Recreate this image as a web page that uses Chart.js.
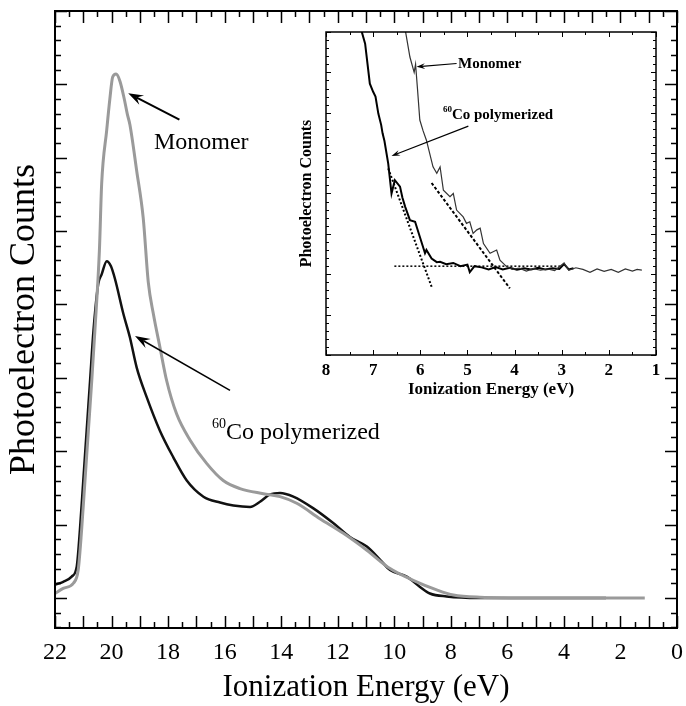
<!DOCTYPE html>
<html>
<head>
<meta charset="utf-8">
<script src="https://cdn.jsdelivr.net/npm/chart.js@4.4.1/dist/chart.umd.min.js"></script>
<style>
  body { margin: 0; background: #fff; }
  #wrap { position: relative; width: 686px; height: 706px; }
  #inset { position: absolute; left: 290px; top: 24px; }
</style>
</head>
<body>
<div id="wrap">
  <canvas id="main" width="686" height="706"></canvas>
  <canvas id="inset" width="372" height="392"></canvas>
</div>
<script>
// main spectrum, ionization energy (eV) vs counts (arbitrary units)
const monomerE = [22.0, 21.71, 21.35, 21.18, 21.06, 20.94, 20.82, 20.70, 20.59, 20.43, 20.35, 20.17, 20.06, 19.96, 19.84, 19.70, 19.55, 19.44, 19.35, 19.11, 18.88, 18.70, 18.52, 18.29, 18.05, 17.70, 17.22, 16.63, 16.05, 15.46, 14.63, 14.04, 13.45, 12.63, 11.80, 10.97, 10.15, 9.33, 8.50, 7.91, 6.97, 5.0, 3.0, 1.14];
const monomerCounts = [0.06, 0.13, 0.20, 0.38, 0.92, 1.60, 2.28, 2.96, 3.64, 4.73, 5.64, 6.38, 6.80, 7.10, 7.14, 7.04, 6.80, 6.59, 6.45, 5.82, 5.18, 4.30, 3.87, 3.42, 2.96, 2.51, 2.15, 1.83, 1.60, 1.49, 1.42, 1.38, 1.29, 1.08, 0.88, 0.65, 0.40, 0.24, 0.11, 0.04, 0.01, 0.0, 0.0, 0.0];

const polymerE = [22.0, 21.71, 21.41, 21.23, 21.12, 21.00, 20.88, 20.76, 20.64, 20.47, 20.35, 20.17, 20.02, 19.88, 19.58, 19.35, 19.11, 18.76, 18.29, 17.82, 17.34, 16.75, 16.16, 15.69, 15.10, 14.75, 14.39, 14.04, 13.57, 12.86, 12.16, 11.57, 10.97, 10.50, 10.15, 9.56, 9.09, 8.74, 8.15, 7.0, 5.0, 2.51];
const polymerCounts = [0.18, 0.22, 0.29, 0.43, 0.92, 1.60, 2.28, 2.96, 3.64, 4.28, 4.41, 4.59, 4.52, 4.35, 3.87, 3.55, 3.14, 2.74, 2.28, 1.92, 1.60, 1.38, 1.30, 1.26, 1.24, 1.31, 1.41, 1.43, 1.38, 1.22, 1.02, 0.83, 0.70, 0.52, 0.38, 0.29, 0.15, 0.06, 0.02, 0.0, 0.0, 0.0];

// inset: threshold region
const insetMonomerE = [6.40, 6.22, 6.13, 6.10, 6.06, 6.01, 5.94, 5.87, 5.73, 5.65, 5.58, 5.51, 5.37, 5.30, 5.23, 5.09, 5.02, 4.95, 4.88, 4.80, 4.73, 4.66, 4.52, 4.38, 4.31, 4.17, 4.05, 3.90, 3.75, 3.60, 3.45, 3.30, 3.15, 2.95, 2.85, 2.70, 2.55, 2.40, 2.25, 2.10, 1.95, 1.80, 1.65, 1.50, 1.40, 1.30];
const insetMonomerCounts = [8.6, 7.38, 7.0, 7.2, 6.6, 5.82, 5.55, 5.32, 4.66, 4.50, 4.66, 4.08, 3.92, 4.00, 3.59, 3.42, 3.26, 3.30, 3.01, 3.10, 3.14, 2.76, 2.52, 2.60, 2.35, 2.19, 2.12, 2.15, 2.08, 2.14, 2.10, 2.13, 2.09, 2.28, 2.10, 2.16, 2.12, 2.05, 2.13, 2.07, 2.12, 2.05, 2.13, 2.08, 2.12, 2.10];

const insetPolymerE = [7.30, 7.24, 7.17, 7.07, 7.00, 6.95, 6.89, 6.83, 6.80, 6.76, 6.68, 6.61, 6.54, 6.43, 6.38, 6.32, 6.22, 6.11, 6.01, 5.90, 5.87, 5.76, 5.65, 5.58, 5.45, 5.30, 5.15, 5.00, 4.95, 4.85, 4.70, 4.55, 4.40, 4.25, 4.10, 3.95, 3.80, 3.65, 3.50, 3.35, 3.20, 3.05, 2.95, 2.85, 2.75];
const insetPolymerCounts = [8.6, 8.0, 7.71, 6.72, 6.52, 6.40, 5.98, 5.70, 5.49, 5.30, 4.74, 4.00, 4.33, 4.17, 3.90, 3.67, 3.34, 3.30, 2.93, 2.52, 2.60, 2.39, 2.30, 2.31, 2.25, 2.28, 2.20, 2.24, 2.05, 2.20, 2.17, 2.12, 2.18, 2.12, 2.16, 2.11, 2.15, 2.12, 2.16, 2.12, 2.15, 2.13, 2.25, 2.12, 2.15];

// fitted onset lines (dotted)
const baselineE = [6.55, 3.0];
const baselineCounts = [2.20, 2.20];
const polymerFitE = [6.68, 5.76];
const polymerFitCounts = [4.62, 1.69];
const monomerFitE = [5.76, 4.10];
const monomerFitCounts = [4.26, 1.65];

const mainTicks = [22, 20, 18, 16, 14, 12, 10, 8, 6, 4, 2, 0];
const insetTicks = [8, 7, 6, 5, 4, 3, 2, 1];

const pts = (xs, ys) => xs.map((v, i) => ({ x: v, y: ys[i] }));

// box around the plot with inward ticks on all four sides
const frameTicks = {
  id: 'frameTicks',
  afterDatasetsDraw(chart, args, o) {
    const { ctx, chartArea: a, scales: { x, y } } = chart;
    ctx.save();
    ctx.strokeStyle = '#000';
    ctx.lineWidth = o.lineWidth;
    ctx.strokeRect(a.left, a.top, a.right - a.left, a.bottom - a.top);
    ctx.lineWidth = o.tickWidth;
    ctx.beginPath();
    const isMajor = (v, step) => Math.abs(v / step - Math.round(v / step)) < 1e-6;
    for (let v = Math.ceil(x.min / o.xMinor - 1e-6) * o.xMinor; v <= x.max + 1e-6; v += o.xMinor) {
      const px = Math.round(x.getPixelForValue(v)) + 0.5;
      const len = isMajor(v, o.xMajor) ? o.majorLen : o.minorLen;
      ctx.moveTo(px, a.bottom); ctx.lineTo(px, a.bottom - len);
      ctx.moveTo(px, a.top); ctx.lineTo(px, a.top + len);
    }
    for (let v = Math.ceil(y.min / o.yMinor - 1e-6) * o.yMinor; v <= y.max + 1e-6; v += o.yMinor) {
      const py = Math.round(y.getPixelForValue(v)) + 0.5;
      const len = isMajor(v, o.yMajor) ? o.majorLen : o.minorLen;
      ctx.moveTo(a.left, py); ctx.lineTo(a.left + len, py);
      ctx.moveTo(a.right, py); ctx.lineTo(a.right - len, py);
    }
    ctx.stroke();
    ctx.restore();
  }
};

// labels and arrows placed in data coordinates
const notes = {
  id: 'notes',
  afterDatasetsDraw(chart, args, o) {
    const { ctx, scales: { x, y } } = chart;
    ctx.save();
    ctx.fillStyle = '#000';
    ctx.strokeStyle = '#000';
    (o.arrows || []).forEach(ar => {
      const x0 = x.getPixelForValue(ar.from[0]), y0 = y.getPixelForValue(ar.from[1]);
      const x1 = x.getPixelForValue(ar.to[0]), y1 = y.getPixelForValue(ar.to[1]);
      const ang = Math.atan2(y1 - y0, x1 - x0);
      ctx.lineWidth = ar.width;
      ctx.beginPath();
      ctx.moveTo(x0, y0);
      ctx.lineTo(x1 - Math.cos(ang) * ar.head * 0.6, y1 - Math.sin(ang) * ar.head * 0.6);
      ctx.stroke();
      ctx.beginPath();
      ctx.moveTo(x1, y1);
      ctx.lineTo(x1 - ar.head * Math.cos(ang - 0.33), y1 - ar.head * Math.sin(ang - 0.33));
      ctx.lineTo(x1 - ar.head * 0.6 * Math.cos(ang), y1 - ar.head * 0.6 * Math.sin(ang));
      ctx.lineTo(x1 - ar.head * Math.cos(ang + 0.33), y1 - ar.head * Math.sin(ang + 0.33));
      ctx.closePath();
      ctx.fill();
    });
    (o.labels || []).forEach(l => {
      let px = x.getPixelForValue(l.at[0]);
      const py = y.getPixelForValue(l.at[1]);
      ctx.textAlign = 'left';
      ctx.textBaseline = 'alphabetic';
      if (l.sup) {
        ctx.font = l.supFont;
        ctx.fillText(l.sup, px, py - l.supRise);
        px += ctx.measureText(l.sup).width;
      }
      ctx.font = l.font;
      ctx.fillText(l.text, px, py);
    });
    ctx.restore();
  }
};

const serif = 'Liberation Serif';

new Chart(document.getElementById('main'), {
  type: 'line',
  data: {
    datasets: [
      { label: 'Monomer', data: pts(monomerE, monomerCounts), borderColor: '#9a9a9a', borderWidth: 3, pointRadius: 0, cubicInterpolationMode: 'monotone' },
      { label: '60Co polymerized', data: pts(polymerE, polymerCounts), borderColor: '#111', borderWidth: 2.5, pointRadius: 0, cubicInterpolationMode: 'monotone' }
    ]
  },
  options: {
    responsive: false,
    animation: false,
    devicePixelRatio: 1,
    layout: { padding: { top: 11, right: 9, left: 0, bottom: 0 } },
    plugins: {
      legend: { display: false },
      tooltip: { enabled: false },
      frameTicks: { lineWidth: 2, tickWidth: 1.5, xMinor: 0.5, xMajor: 1, yMinor: 0.2, yMajor: 1, majorLen: 12, minorLen: 6 },
      notes: {
        arrows: [
          { from: [17.60, 6.52], to: [19.41, 6.88], head: 16, width: 2 },
          { from: [15.81, 2.83], to: [19.17, 3.57], head: 16, width: 1.5 }
        ],
        labels: [
          { text: 'Monomer', at: [18.50, 6.12], font: '24px ' + serif },
          { text: 'Co polymerized', sup: '60', at: [16.45, 2.17], font: '24px ' + serif, supFont: '14px ' + serif, supRise: 11 }
        ]
      }
    },
    scales: {
      x: {
        type: 'linear', reverse: true, min: 0, max: 22,
        afterFit: s => { s.height = 78; },
        afterBuildTicks: s => { s.ticks = mainTicks.map(v => ({ value: v })); },
        grid: { display: false },
        border: { display: false },
        ticks: { padding: 2, color: '#000', font: { family: serif, size: 24 }, maxRotation: 0 },
        title: { display: true, text: 'Ionization Energy (eV)', color: '#000', font: { family: serif, size: 31 }, padding: 0 }
      },
      y: {
        type: 'linear', min: -0.41, max: 8.0,
        afterFit: s => { s.width = 55; },
        grid: { display: false },
        border: { display: false },
        ticks: { display: false },
        title: { display: true, text: 'Photoelectron Counts', color: '#000', font: { family: serif, size: 36 }, padding: { top: 3 } }
      }
    }
  },
  plugins: [frameTicks, notes]
});

new Chart(document.getElementById('inset'), {
  type: 'line',
  data: {
    datasets: [
      { label: 'Monomer', data: pts(insetMonomerE, insetMonomerCounts), borderColor: '#333', borderWidth: 1.2, pointRadius: 0, tension: 0 },
      { label: '60Co polymerized', data: pts(insetPolymerE, insetPolymerCounts), borderColor: '#000', borderWidth: 2, pointRadius: 0, tension: 0 },
      { label: 'baseline', data: pts(baselineE, baselineCounts), borderColor: '#000', borderWidth: 1.5, borderDash: [2, 2], pointRadius: 0 },
      { label: 'polymer onset', data: pts(polymerFitE, polymerFitCounts), borderColor: '#000', borderWidth: 2, borderDash: [2, 2], pointRadius: 0 },
      { label: 'monomer onset', data: pts(monomerFitE, monomerFitCounts), borderColor: '#000', borderWidth: 2, borderDash: [3, 2], pointRadius: 0 }
    ]
  },
  options: {
    responsive: false,
    animation: false,
    devicePixelRatio: 1,
    layout: { padding: { top: 8, right: 6, left: 0, bottom: 0 } },
    plugins: {
      legend: { display: false },
      tooltip: { enabled: false },
      frameTicks: { lineWidth: 1.5, tickWidth: 1, xMinor: 0.5, xMajor: 1, yMinor: 0.2, yMajor: 1, majorLen: 5, minorLen: 3 },
      notes: {
        arrows: [
          { from: [5.23, 7.22], to: [6.08, 7.14], head: 9, width: 1.2 },
          { from: [4.98, 5.67], to: [6.61, 4.93], head: 9, width: 1.2 }
        ],
        labels: [
          { text: 'Monomer', at: [5.20, 7.10], font: 'bold 15px ' + serif },
          { text: 'Co polymerized', sup: '60', at: [5.52, 5.85], font: 'bold 15px ' + serif, supFont: 'bold 9px ' + serif, supRise: 7 }
        ]
      }
    },
    scales: {
      x: {
        type: 'linear', reverse: true, min: 1, max: 8,
        afterFit: s => { s.height = 61; },
        afterBuildTicks: s => { s.ticks = insetTicks.map(v => ({ value: v })); },
        grid: { display: false },
        border: { display: false },
        ticks: { padding: -3, color: '#000', font: { family: serif, size: 17, weight: 'bold' }, maxRotation: 0 },
        title: { display: true, text: 'Ionization Energy (eV)', color: '#000', font: { family: serif, size: 17, weight: 'bold' }, padding: { bottom: 16 } }
      },
      y: {
        type: 'linear', min: 0, max: 8,
        afterFit: s => { s.width = 36; },
        grid: { display: false },
        border: { display: false },
        ticks: { display: false },
        title: { display: true, text: 'Photoelectron Counts', color: '#000', font: { family: serif, size: 16, weight: 'bold' }, padding: { top: 7 } }
      }
    }
  },
  plugins: [frameTicks, notes]
});
</script>
</body>
</html>
